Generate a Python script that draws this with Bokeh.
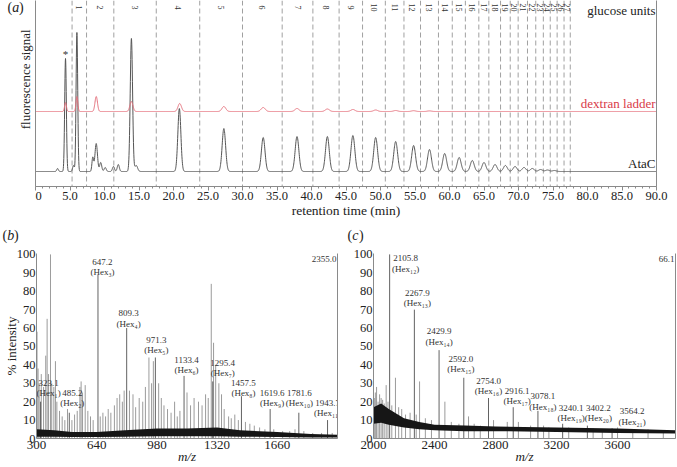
import numpy as np
from bokeh.plotting import figure
from bokeh.layouts import column, row
from bokeh.models import Range1d, FixedTicker, LinearAxis, Span, ColumnDataSource
from bokeh.core.properties import value
from bokeh.embed import file_html
from bokeh.resources import INLINE

SERIF = "Liberation Serif"

# ---------------- (a) chromatogram data ----------------
retention_ticks = [0, 5, 10, 15, 20, 25, 30, 35, 40, 45, 50, 55, 60, 65, 70, 75, 80, 85, 90]
retention_tick_labels = ["0", "5.0", "10.0", "15.0", "20.0", "25.0", "30.0", "35.0", "40.0", "45.0",
                         "50.0", "55.0", "60.0", "65.0", "70.0", "75.0", "80.0", "85.0", "90.0"]
atac_peak_rt = [3.2, 4.35, 5.5, 6.0, 8.3, 8.8, 9.45, 10.1, 11.3, 12.0, 13.9, 14.6, 20.85, 27.3,
                33.0, 37.9, 42.3, 46.0, 49.3, 52.2, 54.8, 57.1, 59.3, 61.4, 63.3, 65.0, 66.6,
                68.1, 69.5, 70.8, 72.0, 73.2, 74.2, 75.2]
atac_peak_height = [3, 113, 6, 139, 14, 28, 9, 4, 5, 7, 133, 6, 63, 43,
                    34, 35, 35, 36, 34, 30, 26, 22, 18, 14, 11, 9, 7,
                    6, 5, 4, 3, 2, 1.5, 1]
atac_peak_width = [0.12, 0.12, 0.12, 0.12, 0.12, 0.18, 0.15, 0.15, 0.15, 0.15, 0.17, 0.2, 0.22, 0.25,
                   0.26, 0.27, 0.27, 0.28, 0.28, 0.28, 0.28, 0.28, 0.28, 0.28, 0.28, 0.28, 0.28,
                   0.28, 0.28, 0.28, 0.28, 0.28, 0.28, 0.28]
dextran_peak_rt = [4.35, 6.0, 8.8, 13.9, 20.9, 27.3, 33.0, 37.9, 42.3, 46.0, 49.3, 52.2, 54.8, 57.1]
dextran_peak_height = [9, 15, 15, 10, 8, 5, 4, 3, 2.5, 2, 1.5, 1, 0.8, 0.6]
dextran_peak_width = [0.13, 0.13, 0.18, 0.22, 0.25, 0.28, 0.3, 0.3, 0.3, 0.3, 0.3, 0.3, 0.3, 0.3]
glucose_unit_bounds = [5.3, 7.4, 11.35, 17.5, 23.8, 30.0, 35.75, 40.2, 44.0, 47.4, 50.7, 53.4, 55.8,
                       58.4, 60.4, 62.3, 64.25, 65.7, 67.4, 68.8, 69.95, 71.3, 72.5, 73.6, 74.6,
                       75.6, 76.6, 77.5]
glucose_unit_labels = [str(i) for i in range(1, 28)]

# ---------------- (b) MALDI spectrum 300-2000 ----------------
b_hex_mz = [323.1, 485.2, 647.2, 809.3, 971.3, 1133.4, 1295.4, 1457.5, 1619.6, 1781.6, 1943.7]
b_hex_int = [20, 14, 89, 60, 44, 34, 31, 23, 16, 14, 10]
b_hex_n = [1, 2, 3, 4, 5, 6, 7, 8, 9, 10, 11]
b_other_mz = [303, 309, 315, 327, 340, 352, 360, 368, 379, 386, 398, 407, 415, 430, 445, 460, 475,
              500, 515, 530, 545, 552, 560, 575, 590, 605, 620, 660, 675, 690, 705, 720, 740, 755,
              770, 785, 795, 825, 845, 860, 880, 900, 915, 935, 950, 960, 990, 1005, 1020, 1040,
              1060, 1080, 1095, 1110, 1150, 1170, 1190, 1215, 1235, 1255, 1270, 1287, 1300, 1312,
              1330, 1345, 1360, 1385, 1400, 1420, 1440, 1480, 1505, 1530, 1560, 1590, 1640, 1690,
              1730, 1760, 1810, 1860, 1910, 1970]
b_other_int = [58, 38, 30, 35, 28, 45, 65, 35, 100, 30, 28, 42, 20, 15, 12, 10, 16,
               10, 13, 15, 28, 31, 25, 29, 15, 12, 10, 12, 14, 12, 16, 14, 18, 22,
               24, 20, 26, 26, 24, 17, 22, 20, 28, 44, 30, 42, 30, 22, 18, 16,
               14, 20, 12, 15, 25, 18, 22, 20, 18, 24, 22, 84, 52, 40,
               30, 24, 16, 12, 11, 13, 10, 9, 8, 7, 6, 5, 5, 4,
               4, 5, 4, 3, 3, 3]
b_noise_mz = [300, 400, 500, 640, 800, 980, 1150, 1320, 1450, 1660, 1850, 2000]
b_noise_lo = [1, 1, 0.8, 0.8, 1, 1.2, 1.2, 1.2, 1, 0.8, 0.6, 0.5]
b_noise_hi = [5, 4.5, 3.5, 3.5, 4.5, 5.5, 5.5, 6, 4.5, 3.5, 2.5, 2]
b_abs_intensity = "2355.0"
b_ticks = [300, 640, 980, 1320, 1660]

# ---------------- (c) MALDI spectrum 2000-4000 ----------------
c_hex_mz = [2105.8, 2267.9, 2429.9, 2592.0, 2754.0, 2916.1, 3078.1, 3240.1, 3402.2, 3564.2]
c_hex_int = [100, 70, 48, 33, 22, 17, 15, 8, 7, 5.5]
c_hex_n = [12, 13, 14, 15, 16, 17, 18, 19, 20, 21]
c_other_mz = [2005, 2012, 2020, 2030, 2040, 2050, 2060, 2070, 2083, 2095, 2120, 2144, 2165, 2185,
              2210, 2240, 2280, 2302, 2340, 2380, 2468, 2510, 2560, 2623, 2660, 2700, 2787, 2877,
              2950, 3030, 3115, 3150, 3280, 3440, 3500, 3600, 3700, 3800, 3900]
c_other_int = [22, 25, 28, 20, 24, 22, 21, 19, 29, 20, 18, 33, 17, 16,
               13, 14, 13, 31, 11, 10, 20, 9, 8, 12, 8, 7, 10, 9,
               9, 7, 7, 6, 6, 5.5, 5, 6, 5, 5, 4.5]
c_noise_mz = [2000, 2050, 2100, 2200, 2300, 2400, 2600, 2800, 3200, 3600, 3980]
c_noise_lo = [8, 8.5, 7.5, 6, 5, 4.5, 4, 4, 3.5, 3, 2.7]
c_noise_hi = [17, 19, 16, 11, 9, 7.5, 7, 6.5, 6, 5.5, 4.5]
c_abs_intensity = "66.1"
c_ticks = [2000, 2400, 2800, 3200, 3600]

intensity_ticks = [0, 10, 20, 30, 40, 50, 60, 70, 80, 90, 100]

SUB = str.maketrans("0123456789", "₀₁₂₃₄₅₆₇₈₉")
AXIS_GREY = "#8a8a8a"
INK = "#222"


def bare_figure(width, height, xr, yr):
    p = figure(width=width, height=height, x_range=Range1d(*xr), y_range=Range1d(*yr),
               output_backend="svg", toolbar_location=None,
               min_border=0, min_border_left=0, min_border_right=0,
               min_border_top=0, min_border_bottom=0)
    p.axis.visible = False
    p.grid.visible = False
    p.outline_line_color = None
    return p


def style_common(p):
    p.xgrid.visible = False
    p.ygrid.visible = False
    p.outline_line_color = None
    p.background_fill_color = "white"
    p.border_fill_color = "white"


def add_right_line(p):
    ax = LinearAxis(ticker=FixedTicker(ticks=[]), axis_line_color=AXIS_GREY,
                    major_tick_line_color=None, minor_tick_line_color=None,
                    major_label_text_font_size="0px")
    p.add_layout(ax, "right")


def panel_letter(p, x, y, letter):
    # "(" upright, letter italic, ")" upright
    for txt, style, off in [("(", "normal", 0), (letter, "italic", 4.8), (")", "normal", 11.6)]:
        p.text(x=[x + off], y=[y], text=[txt], text_font=value(SERIF), text_font_size="14px",
               text_font_style=style, text_color=INK, text_align="left",
               text_baseline="middle")


# ======================= side strip of panel (a) =======================
side_a = bare_figure(35, 222, (0, 35), (222, 0))
panel_letter(side_a, 7, 8, "a")
side_a.text(x=[25], y=[94], text=["fluorescence signal"], angle=np.pi / 2,
            text_font=value(SERIF), text_font_size="13px", text_color=INK,
            text_align="center", text_baseline="middle")

# ======================= panel (a) =======================
pa = figure(width=642, height=222, x_range=Range1d(0, 90), y_range=Range1d(0, 186),
            output_backend="svg", toolbar_location=None,
            min_border_left=0, min_border_right=21, min_border_top=0, min_border_bottom=36)
style_common(pa)

for b in glucose_unit_bounds:
    pa.add_layout(Span(location=b, dimension="height", line_color="#a0a0a0",
                       line_dash="5 3", line_width=1, level="underlay"))

rt = np.linspace(0, 90, 3601)
atac_base = 15
dex_base = 75
atac = np.full_like(rt, atac_base, dtype=float)
for r, h, w in zip(atac_peak_rt, atac_peak_height, atac_peak_width):
    atac += h * np.exp(-0.5 * ((rt - r) / w) ** 2)
dex = np.full_like(rt, dex_base, dtype=float)
for r, h, w in zip(dextran_peak_rt, dextran_peak_height, dextran_peak_width):
    dex += h * np.exp(-0.5 * ((rt - r) / w) ** 2)

pa.line(rt, atac, line_color="#555555", line_width=1)
pa.line(rt, dex, line_color="#e3707c", line_width=1)

gu_x = [(a + b) / 2 for a, b in zip(glucose_unit_bounds[:-1], glucose_unit_bounds[1:])]
pa.text(x=gu_x, y=[186] * len(gu_x), text=glucose_unit_labels, angle=-np.pi / 2,
        y_offset=7, text_font=value(SERIF), text_font_size="8px", text_color="#333",
        text_align="center", text_baseline="middle")
star_i = 1
pa.text(x=[atac_peak_rt[star_i]], y=[atac_base + atac_peak_height[star_i]], text=["*"],
        y_offset=-5, text_font=value(SERIF), text_font_size="11px", text_color="#333",
        text_align="center", text_baseline="middle")

pa.text(x=[90], y=[186], text=["glucose units"], x_offset=-1, y_offset=10,
        text_font=value(SERIF), text_font_size="13px", text_color=INK,
        text_align="right", text_baseline="middle")
pa.text(x=[90], y=[dex_base], text=["dextran ladder"], x_offset=-1, y_offset=-8,
        text_font=value(SERIF), text_font_size="13px", text_color="#d93a48",
        text_align="right", text_baseline="middle")
pa.text(x=[90], y=[atac_base], text=["AtaC"], x_offset=-1, y_offset=-8,
        text_font=value(SERIF), text_font_size="13px", text_color=INK,
        text_align="right", text_baseline="middle")

xa = pa.xaxis[0]
xa.ticker = FixedTicker(ticks=retention_ticks, minor_ticks=list(range(0, 91)))
xa.major_label_overrides = {t: l for t, l in zip(retention_ticks, retention_tick_labels)}
xa.axis_label = "retention time (min)"
ya = pa.yaxis[0]
ya.ticker = FixedTicker(ticks=[])
for ax in (xa, ya):
    ax.axis_line_color = AXIS_GREY
    ax.major_tick_line_color = AXIS_GREY
    ax.minor_tick_line_color = AXIS_GREY
    ax.major_tick_out = 4
    ax.major_tick_in = 0
    ax.minor_tick_out = 2
    ax.minor_tick_in = 0
    ax.major_label_text_font = SERIF
    ax.major_label_text_font_size = "12.5px"
    ax.major_label_text_color = INK
    ax.axis_label_text_font = SERIF
    ax.axis_label_text_font_size = "13.5px"
    ax.axis_label_text_font_style = "normal"
    ax.axis_label_text_color = INK
xa.major_label_standoff = 1
xa.axis_label_standoff = 0
ya.major_label_text_font_size = "0px"
ya.major_tick_out = 0
ya.minor_tick_out = 0
add_right_line(pa)

# ======================= strip with (b) / (c) letters =======================
strip = bare_figure(677, 24, (0, 677), (24, 0))
panel_letter(strip, 2, 13, "b")
panel_letter(strip, 347, 13, "c")


# ======================= spectra =======================
def spectrum(width, mb_left, mb_right, xr, ticks, hex_mz, hex_int, hex_n, other_mz, other_int,
             noise_mz, noise_lo, noise_hi, abs_int, dx, dy1, ylabel):
    p = figure(width=width, height=221, x_range=Range1d(*xr), y_range=Range1d(0, 100.5),
               output_backend="svg", toolbar_location=None,
               min_border_left=mb_left, min_border_right=mb_right, min_border_top=7,
               min_border_bottom=29)
    style_common(p)
    p.segment(x0=other_mz, y0=[0] * len(other_mz), x1=other_mz, y1=other_int,
              line_color="#707070", line_width=0.7)
    p.segment(x0=hex_mz, y0=[0] * len(hex_mz), x1=hex_mz, y1=hex_int,
              line_color="#3a3a3a", line_width=0.8)
    p.varea(x=noise_mz, y1=noise_lo, y2=noise_hi, fill_color="#161616", fill_alpha=1.0)
    src = ColumnDataSource(dict(
        x=hex_mz, y=hex_int,
        num=[f"{m:.1f}" for m in hex_mz],
        hexl=[f"(Hex{str(n).translate(SUB)})" for n in hex_n],
        dx=dx, dy1=dy1, dy2=[d + 10.5 for d in dy1]))
    common = dict(text_font=value(SERIF), text_font_size="9px", text_color="#333",
                  text_align="center", text_baseline="middle")
    p.text(x="x", y="y", text="num", x_offset="dx", y_offset="dy1", source=src, **common)
    p.text(x="x", y="y", text="hexl", x_offset="dx", y_offset="dy2", source=src, **common)
    p.text(x=[xr[1]], y=[100], text=[abs_int], x_offset=-1, y_offset=5,
           text_font=value(SERIF), text_font_size="9px", text_color="#333",
           text_align="right", text_baseline="middle")

    xa = p.xaxis[0]
    xa.ticker = FixedTicker(ticks=ticks)
    xa.axis_label = "m/z"
    xa.major_label_standoff = 2
    xa.axis_label_standoff = -3
    ya = p.yaxis[0]
    ya.ticker = FixedTicker(ticks=intensity_ticks)
    ya.major_label_standoff = 1
    if ylabel:
        ya.axis_label = ylabel
        ya.axis_label_standoff = -5
    for ax in (xa, ya):
        ax.axis_line_color = AXIS_GREY
        ax.major_tick_line_color = None
        ax.minor_tick_line_color = None
        ax.major_tick_out = 0
        ax.major_tick_in = 0
        ax.minor_tick_out = 0
        ax.minor_tick_in = 0
        ax.major_label_text_font = SERIF
        ax.major_label_text_color = INK
        ax.axis_label_text_font = SERIF
        ax.axis_label_text_font_size = "13px"
        ax.axis_label_text_color = INK
        ax.axis_label_text_font_style = "normal"
    xa.axis_label_text_font_style = "italic"
    xa.major_label_text_font_size = "13px"
    ya.major_label_text_font_size = "12.5px"
    add_right_line(p)
    return p


b_dx = [8, 3, 4.5, 2, 1, 2.4, 10, 2, 2, 0.6, 0]
b_dy = [-19, -20, -13, -15, -17.6, -16, -18.6, -13.5, -16.4, -20, -17.5]
c_dx = [16, 3, 0, -3, 0, 4, 5, 8.5, 11, 20]
c_dy = [4, -17, -19, -19, -17.5, -16.7, -14.4, -16, -18, -17]

pb = spectrum(345, 36, 8, (300, 2000), b_ticks, b_hex_mz, b_hex_int, b_hex_n,
              b_other_mz, b_other_int, b_noise_mz, b_noise_lo, b_noise_hi, b_abs_intensity,
              b_dx, b_dy, "% intensity")
pc = spectrum(332, 28, 2, (2000, 3980), c_ticks, c_hex_mz, c_hex_int, c_hex_n,
              c_other_mz, c_other_int, c_noise_mz, c_noise_lo, c_noise_hi, c_abs_intensity,
              c_dx, c_dy, None)

layout = column(row(side_a, pa), strip, row(pb, pc))
open("out.html", "w").write(file_html(layout, INLINE))
